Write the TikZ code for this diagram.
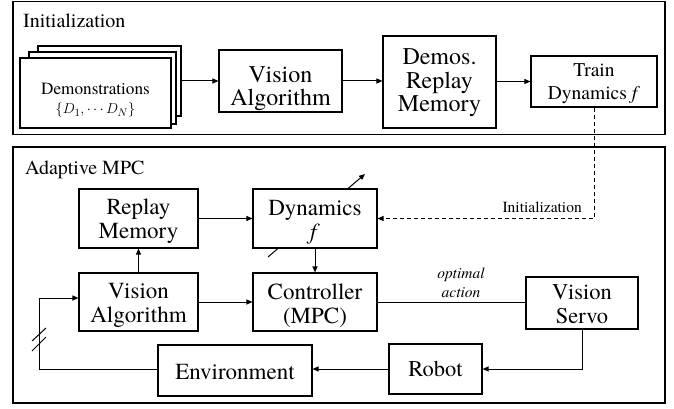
\documentclass[tikz,border=0pt]{standalone}
\usepackage{fontspec}
\setmainfont{TeX Gyre Termes}
\usetikzlibrary{arrows.meta}
\begin{document}
\begin{tikzpicture}[x=1pt,y=-1pt,
  box/.style={draw, line width=1.1pt, fill=white, inner sep=0pt},
  txt/.style={align=center, inner sep=0pt},
  big/.style={font=\fontsize{24}{23}\selectfont},
  mid/.style={font=\fontsize{23}{24}\selectfont},
  arr/.style={line width=1pt, -{Triangle[length=6pt,width=5pt]}},
  ln/.style={line width=1pt},
  fr/.style={draw, line width=1.2pt, inner sep=0pt}]
\useasboundingbox (0,0) rectangle (674,409);

% frames
\node[fr, minimum width=652pt, minimum height=133pt] (initframe) at (339,68) {};
\node[fr, minimum width=652pt, minimum height=256pt] (mpcframe) at (339,275) {};
\node[txt, anchor=west, font=\fontsize{20}{22}\selectfont] (inittitle) at (23,21) {Initialization};
\node[txt, anchor=west, font=\fontsize{20}{22}\selectfont] (mpctitle) at (25,170) {Adaptive MPC};

% adaptive arrow (behind Dynamics box)
\coordinate (adA) at (268,257);
\coordinate (adB) at (365,174);
\draw[arr] (adA) -- (adB);

% Initialization row
\node[box, minimum width=143pt, minimum height=70pt] (demoback) at (109.5,81) {};
\node[box, minimum width=147pt, minimum height=72pt] (demomid) at (102.5,88) {};
\node[box, minimum width=151pt, minimum height=70pt] (demofront) at (95.5,93) {};
\node[txt, font=\fontsize{17.2}{19}\selectfont] (demotxt) at (95.5,100.5) {Demonstrations\\{\fontsize{15}{19}\selectfont$\{D_1,\cdots D_N\}$}};

\node[box, minimum width=123pt, minimum height=62pt] (va1) at (280.5,81) {};
\node[txt, big] (va1t) at (280.5,89) {Vision\\Algorithm};

\node[box, minimum width=113pt, minimum height=92pt] (drm) at (439.5,82) {};
\node[txt, font=\fontsize{24}{23.5}\selectfont] (drmt) at (439.5,83) {Demos.\\Replay\\Memory};

\node[box, minimum width=126pt, minimum height=51pt] (tdf) at (594,81.5) {};
\node[txt, font=\fontsize{19.5}{23}\selectfont] (tdft) at (594,84) {Train\\Dynamics~\textit{f}};

\draw[arr] (demoback.east) -- (va1.west);
\draw[arr] (va1.east) -- (va1.east -| drm.west);
\draw[arr] (drm.east |- tdf.west) -- (tdf.west);

% Adaptive MPC
\node[box, minimum width=119pt, minimum height=59pt] (rm) at (138.5,218.5) {};
\node[txt, mid] (rmt) at (138.5,221) {Replay\\Memory};

\node[box, minimum width=124pt, minimum height=59pt] (dyn) at (315,218.5) {};
\node[txt, mid] (dynt) at (315,222.5) {Dynamics\\\textit{f}};

\node[box, minimum width=119pt, minimum height=58pt] (va2) at (138.5,302) {};
\node[txt, mid] (va2t) at (138.5,305) {Vision\\Algorithm};

\node[box, minimum width=124pt, minimum height=58pt] (ctrl) at (315,302) {};
\node[txt, mid] (ctrlt) at (315,306) {Controller\\(MPC)};

\node[box, minimum width=112pt, minimum height=52pt] (vs) at (582,303) {};
\node[txt, font=\fontsize{22.5}{24}\selectfont] (vst) at (582,304) {Vision\\Servo};

\node[box, minimum width=93pt, minimum height=50pt] (robot) at (435.5,369) {};
\node[txt, font=\fontsize{22.5}{24}\selectfont] (robott) at (435.5,368.5) {Robot};

\node[box, minimum width=154pt, minimum height=51pt] (env) at (235,370.5) {};
\node[txt, mid] (envt) at (235,372) {Environment};

% connectors
\coordinate (initcorner) at (tdf.south |- dyn.east);
\draw[line width=1pt, dash pattern=on 4pt off 3pt, -{Triangle[length=6pt,width=5pt]}]
  (tdf.south) -- (initcorner) -- (dyn.east);
\node[txt, anchor=east, font=\fontsize{15.5}{17}\selectfont] (initlbl) at (582,207) {Initialization};

\draw[arr] (rm.east) -- (dyn.west);
\draw[arr] (dyn.south) -- (ctrl.north);
\draw[arr] (va2.north) -- (rm.south);
\draw[arr] (va2.east) -- (ctrl.west);
\draw[ln] (ctrl.east) -- (ctrl.east -| vs.west);
\node[txt, font=\itshape\fontsize{15.5}{19}\selectfont] (optlbl) at (461,282.5) {optimal\\action};

\coordinate (vsdown) at (vs.south |- robot.east);
\draw[arr] (vs.south) -- (vsdown) -- (robot.east);
\draw[arr] (robot.west) -- (robot.west -| env.east);

\coordinate (fb1) at (39,369);
\coordinate (fb2) at (39,298);
\draw[arr] (env.west |- fb1) -- (fb1) -- (fb2) -- (fb2 -| va2.west);
\draw[ln] (32,341) -- (46,328);
\draw[ln] (32,351) -- (46,337);
\end{tikzpicture}
\end{document}
